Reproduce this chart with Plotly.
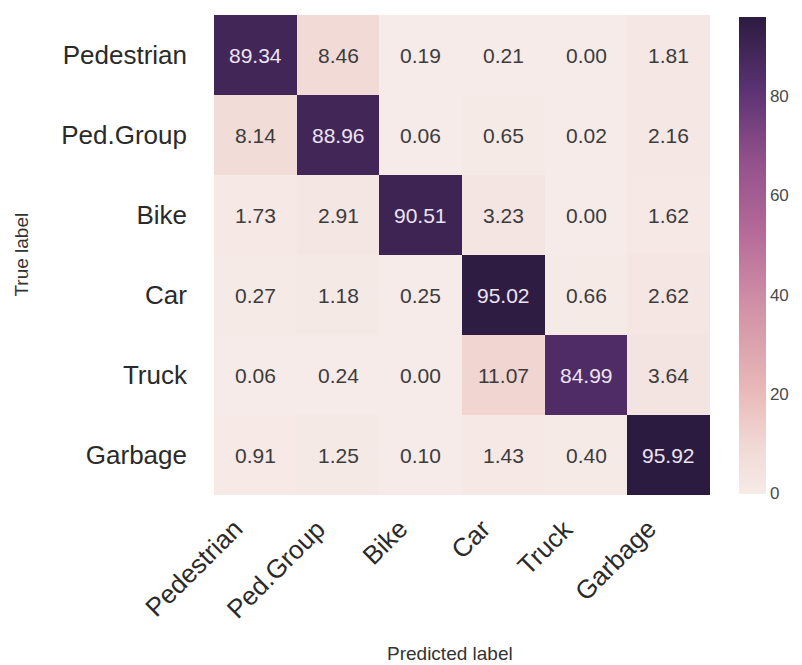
import plotly.graph_objects as go

labels = ["Pedestrian", "Ped.Group", "Bike", "Car", "Truck", "Garbage"]
values = [
    [89.34, 8.46, 0.19, 0.21, 0.00, 1.81],
    [8.14, 88.96, 0.06, 0.65, 0.02, 2.16],
    [1.73, 2.91, 90.51, 3.23, 0.00, 1.62],
    [0.27, 1.18, 0.25, 95.02, 0.66, 2.62],
    [0.06, 0.24, 0.00, 11.07, 84.99, 3.64],
    [0.91, 1.25, 0.10, 1.43, 0.40, 95.92],
]
cbar_ticks = [0, 20, 40, 60, 80]

colorscale = [
    [0.0, "#f6ebe8"],
    [0.1, "#f1d9d5"],
    [0.22, "#e8b8b8"],
    [0.4, "#d08fa6"],
    [0.55, "#b56a98"],
    [0.7, "#92508b"],
    [0.85, "#5a3272"],
    [1.0, "#2c1b40"],
]

FONT = "Liberation Sans, Arial, sans-serif"
zmax = max(max(r) for r in values)
ann = []
for i, row in enumerate(values):
    for j, v in enumerate(row):
        ann.append(dict(
            x=labels[j], y=labels[i], text=f"{v:.2f}", showarrow=False,
            font=dict(family=FONT, size=21,
                      color="#ece4f2" if v > zmax * 0.5 else "#3c3c3c"),
            xref="x", yref="y"))
# rotated x tick labels, right-aligned to tick like matplotlib ha='right'
for lab in labels:
    ann.append(dict(x=lab, y=0, xref="x", yref="paper", text=lab, showarrow=False,
                    textangle=-45, xanchor="right", yanchor="top", xshift=-4, yshift=-16,
                    font=dict(family=FONT, size=26, color="#2a2a2a")))
ann.append(dict(x=0.475, y=-0.33, xref="paper", yref="paper", text="Predicted label",
                showarrow=False, font=dict(family=FONT, size=19, color="#333333"),
                xanchor="center", yanchor="middle"))
ann.append(dict(x=-0.39, y=0.5, xref="paper", yref="paper", text="True label",
                showarrow=False, textangle=-90, font=dict(family=FONT, size=19, color="#333333"),
                xanchor="center", yanchor="middle"))

fig = go.Figure(go.Heatmap(
    z=values, x=labels, y=labels, colorscale=colorscale, zmin=0, zmax=zmax,
    colorbar=dict(
        x=1.0585, xanchor="left", y=0.5, yanchor="middle", len=0.994, lenmode="fraction",
        thickness=27, outlinewidth=0, xpad=0, ypad=0,
        tickvals=cbar_ticks, ticks="", ticklabelposition="outside",
        tickfont=dict(family=FONT, size=17, color="#4a4a4a"),
    ),
))

# page body adds an 8px offset, so the figure is 8px smaller and margins shifted
fig.update_layout(
    width=794, height=657,
    margin=dict(l=206, r=92, t=7, b=170, autoexpand=False),
    paper_bgcolor="white", plot_bgcolor="white",
    annotations=ann,
    font=dict(family=FONT, color="#262626"),
)
fig.update_xaxes(
    range=[-0.5, 5.5], autorange=False,
    showticklabels=False, ticks="", showgrid=False,
    zeroline=False, showline=False, automargin=False,
)
fig.update_yaxes(
    range=[5.5, -0.5], autorange=False,
    tickfont=dict(family=FONT, size=26, color="#2a2a2a"), ticks="", showgrid=False,
    zeroline=False, showline=False, automargin=False, ticklabelstandoff=26,
)

fig.write_html("out.html")
